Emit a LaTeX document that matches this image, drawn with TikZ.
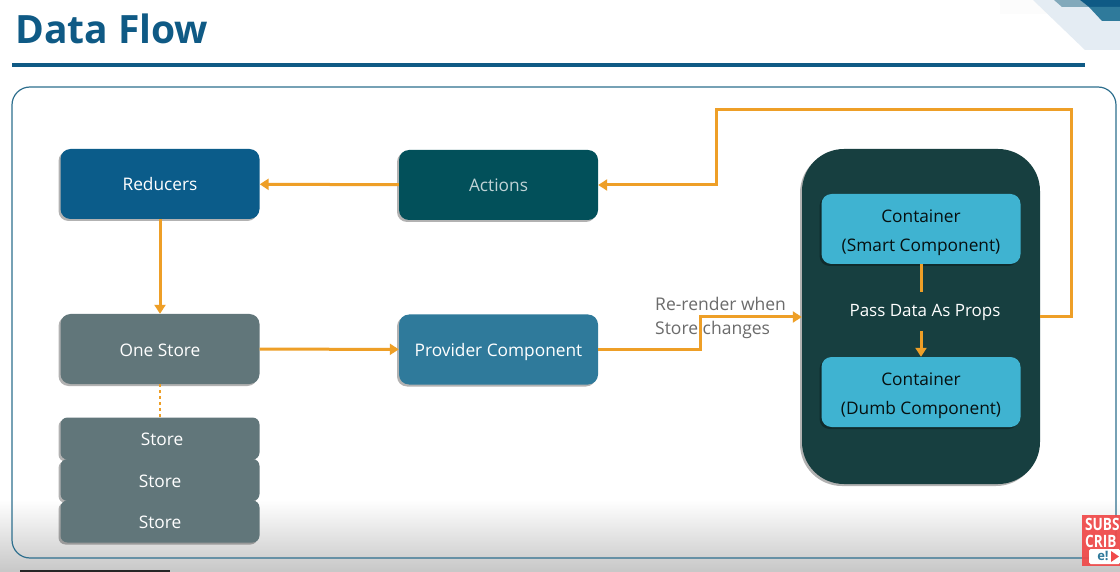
\documentclass[tikz,border=0pt]{standalone}
\usepackage{fontspec}
\setmainfont{Open Sans}
\usetikzlibrary{arrows.meta,shadows}

\definecolor{titleblue}{HTML}{0F5A85}
\definecolor{framecol}{HTML}{2E6F8E}
\definecolor{flowcol}{HTML}{EE9F27}
\definecolor{reducercol}{HTML}{0B5C8A}
\definecolor{actioncol}{HTML}{02505A}
\definecolor{storecol}{HTML}{61767A}
\definecolor{providercol}{HTML}{2F7A9B}
\definecolor{outercol}{HTML}{173F40}
\definecolor{containercol}{HTML}{3FB3D1}
\definecolor{badgecol}{HTML}{F04A4A}
\definecolor{cornerlight}{HTML}{E4ECF3}

\tikzset{
  plainbox/.style={rounded corners=10pt,minimum width=199pt,minimum height=70pt,inner sep=0pt,
    font=\fontsize{17.3}{29}\selectfont,text=white,align=center,
    general shadow={shadow xshift=-2pt,shadow yshift=-2pt,fill=black,opacity=.3}},
  box/.style={plainbox,text height=18pt,text depth=4pt},
  smallbox/.style={box,fill=storecol,minimum height=42pt,rounded corners=7pt},
  innerbox/.style={plainbox,fill=containercol,text=black!75!outercol,text height=49pt},
  flow/.style={draw=flowcol,line width=3pt},
  flowarrow/.style={flow,-{Triangle[length=9pt,width=11pt]}},
}

\begin{document}
\begin{tikzpicture}[x=1pt,y=-1pt]
\useasboundingbox (0,0) rectangle (1120,572);

% corner of the slide
\fill[white] (0,0) rectangle (1120,572);
\fill[black!1] (1000,0) -- (1033,0) -- (1050,14) -- (1000,14) -- cycle;
\fill[cornerlight] (1033,0) -- (1085,50) -- (1120,50) -- (1120,0) -- cycle;
\fill[framecol!60] (1054,0) -- (1062,7) -- (1089,7) -- (1080,0) -- cycle;
\fill[titleblue] (1080,0) -- (1089,7) -- (1120,7) -- (1120,0) -- cycle;
\fill[providercol] (1089,7) -- (1102,21) -- (1120,21) -- (1120,7) -- cycle;

% grey band at the bottom
\shade[top color=white,bottom color=black!22] (0,500) rectangle (1120,572);
\fill[black!85] (20,570) rectangle (170,572);

\node[anchor=base west,inner sep=0pt,text=titleblue,font=\fontsize{39}{39}\selectfont\bfseries] (title) at (15,44) {Data Flow};
\draw[titleblue,line width=3.2pt] (12,65) -- (1085,65);
\draw[framecol,line width=1.2pt,rounded corners=18pt] (12,87) rectangle (1116,558);

\node[box,fill=reducercol] (reducers) at (160,184) {Reducers};
\node[box,fill=actioncol,text=white!75!actioncol] (actions) at (498.5,185) {Actions};
\node[box,fill=storecol] (onestore) at (160,349) {One Store};
\node[box,fill=providercol] (provider) at (498.5,349.5) {Provider Component};

\node[smallbox] (store1) at (160,438.5) {\hspace{4pt}Store};
\node[smallbox] (store2) at (160,480) {Store};
\node[smallbox] (store3) at (160,521.5) {Store};

\node[plainbox,fill=outercol,minimum width=238pt,minimum height=335pt,rounded corners=42pt] (outer) at (921,316.5) {};
\node[innerbox] (smart) at (921,229) {Container\\(Smart Component)};
\node[innerbox] (dumb) at (921,392) {Container\\(Dumb Component)};
\node[text=white,font=\fontsize{17}{20}\selectfont,inner sep=0pt,minimum height=38pt] (props) at (925,312) {Pass Data As Props};

\node[anchor=west,inner sep=0pt,align=left,text=black!58,font=\fontsize{17.5}{24}\selectfont] (rerender) at (655,318) {Re-render when\\Store changes};

\coordinate (renderbend) at (700,317);
\coordinate (feedright) at (1071,317);
\coordinate (feedtop) at (716,110);

\draw[flowarrow] (actions) -- (reducers);
\draw[flowarrow] (reducers) -- (onestore);
\draw[flowarrow] (onestore) -- (provider);
\draw[flowarrow] (provider.east) -| (renderbend) -- (outer.west |- renderbend);
\draw[flowarrow] (outer.east |- feedright) -- (feedright) |- (feedtop) |- (actions.east);
\draw[flow] (smart.south -| props.north) ++(-4,0) -- ++(0,28);
\draw[flowarrow] (dumb.north |- props.south) -- (dumb.north);
\draw[flowcol,line width=1.2pt,dashed] (onestore) ++(0,35) -- (store1.north -| onestore);

% subscribe badge
\fill[badgecol,fill opacity=.93] (1082,515) rectangle (1120,566);
\node[anchor=north west,inner sep=0pt,text=white,align=left,font=\fontsize{17}{17}\selectfont\bfseries] (badgetext) at (1085,518) {\scalebox{.8}[1]{SUBS}\\\scalebox{.8}[1]{CRIB}};
\fill[white,rounded corners=1.5pt] (1089,549) rectangle (1120,564);
\node[inner sep=0pt,text=providercol,font=\fontsize{13}{13}\selectfont\bfseries] (badgelogo) at (1103,556) {e!};
\fill[badgecol] (1111,551) -- (1119,556.5) -- (1111,562) -- cycle;
\end{tikzpicture}
\end{document}
